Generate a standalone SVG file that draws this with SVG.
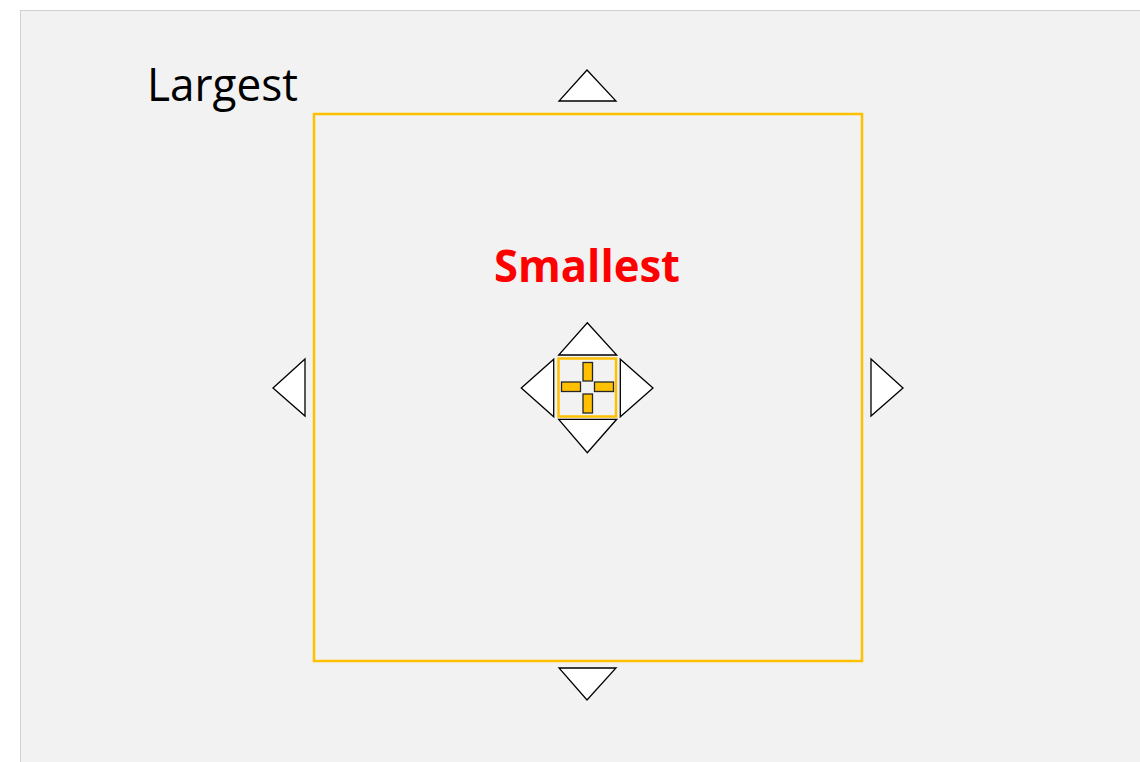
<svg xmlns="http://www.w3.org/2000/svg" width="1140" height="762" viewBox="0 0 1140 762">
<style>
.tri{fill:#ffffff;stroke:#000000;stroke-width:1.3;stroke-linejoin:miter}
.box{fill:none;stroke:#ffc000;stroke-width:2.5}
.bar{fill:#ffc000;stroke:#262626;stroke-width:1.3}
.lbl{font-family:"Open Sans","Liberation Sans",sans-serif}
</style>
<rect x="0" y="0" width="1140" height="762" fill="#ffffff"/>
<rect x="20.5" y="10.5" width="1130" height="760" fill="#f2f2f2" stroke="#d0d0d0" stroke-width="1"/>
<g id="largest">
<rect class="box" x="314" y="114" width="548" height="547"/>
<text class="lbl" x="147" y="101" font-size="46" textLength="151" lengthAdjust="spacingAndGlyphs" fill="#000000">Largest</text>
</g>
<g id="large-arrows">
<polygon class="tri" points="587,70 616,101 559,101"/>
<polygon class="tri" points="559,668 616,668 587,700"/>
<polygon class="tri" points="273,388 305,359 305,416"/>
<polygon class="tri" points="871,359 871,416 903,388"/>
</g>
<g id="smallest">
<text class="lbl" x="587" y="282" font-size="44" font-weight="bold" text-anchor="middle" textLength="186" lengthAdjust="spacingAndGlyphs" fill="#ff0000">Smallest</text>
<rect class="box" x="558.5" y="358.5" width="57.5" height="58"/>
<rect class="bar" x="583" y="362.5" width="9.5" height="18.5"/>
<rect class="bar" x="583" y="394" width="9.5" height="19"/>
<rect class="bar" x="561.5" y="382" width="19" height="9.5"/>
<rect class="bar" x="594.5" y="382" width="19" height="9.5"/>
</g>
<g id="small-arrows">
<polygon class="tri" points="587.3,322.7 616.7,355 558.7,355"/>
<polygon class="tri" points="558.7,419.3 616.7,419.3 587.3,452.7"/>
<polygon class="tri" points="521.3,388 553.7,359.3 553.7,416.7"/>
<polygon class="tri" points="620.3,359.3 620.3,416.7 653,388"/>
</g>
<g id="connectors"></g>
</svg>
